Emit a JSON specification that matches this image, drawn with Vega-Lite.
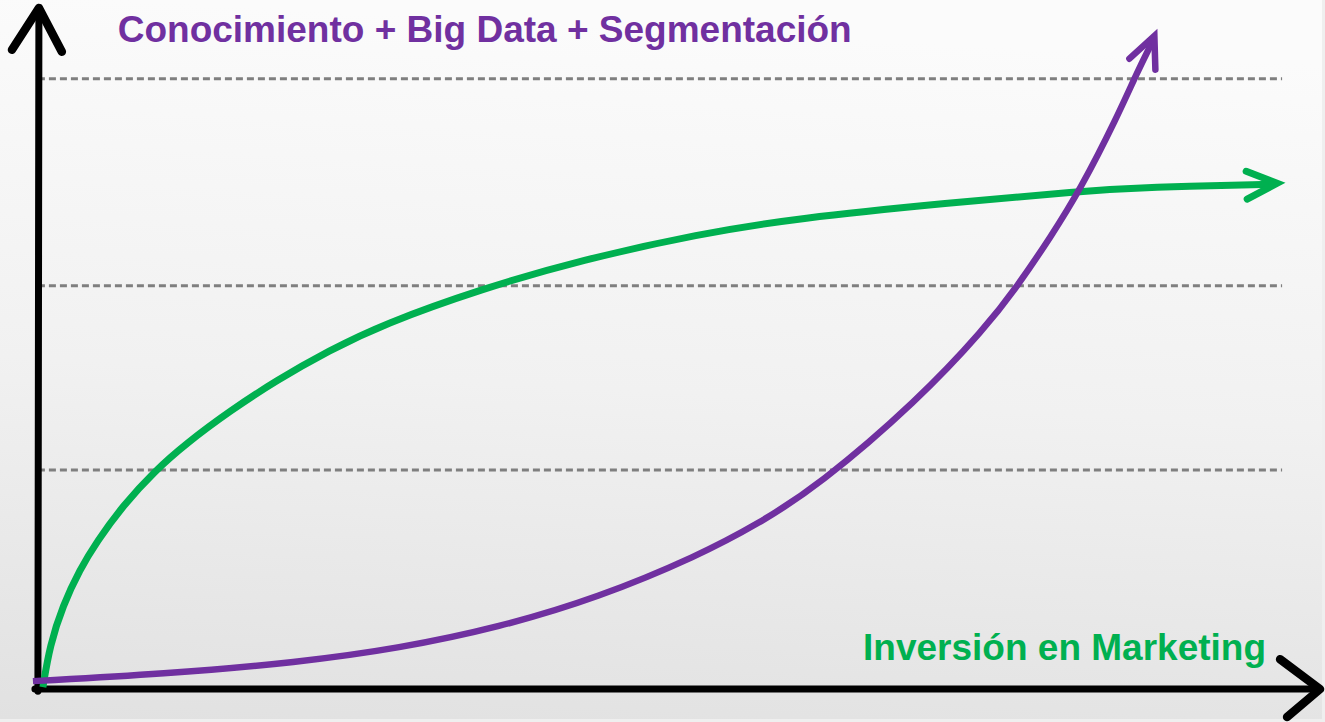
{
  "$schema": "https://vega.github.io/schema/vega-lite/v6.json",
  "width": 1325,
  "height": 722,
  "autosize": {"type": "fit", "contains": "padding"},
  "padding": 0,
  "background": "#efefef",
  "view": {
    "stroke": null,
    "fill": {
      "gradient": "linear",
      "x1": 0.1, "y1": 0, "x2": 0, "y2": 1,
      "stops": [
        {"offset": 0, "color": "#fbfbfb"},
        {"offset": 0.5, "color": "#f1f1f1"},
        {"offset": 1, "color": "#e1e1e1"}
      ]
    }
  },
  "datasets": {
    "grid": [
      {"level": 100, "start": 0, "end": 99.76},
      {"level": 66.07, "start": 0, "end": 99.76},
      {"level": 35.89, "start": 0, "end": 99.76}
    ],
    "curves": [
      {"series": "green", "x": 0.4, "y": 0.33},
      {"series": "green", "x": 0.96, "y": 7.18},
      {"series": "green", "x": 2.0, "y": 13.7},
      {"series": "green", "x": 3.36, "y": 19.58},
      {"series": "green", "x": 4.72, "y": 24.14},
      {"series": "green", "x": 6.8, "y": 30.02},
      {"series": "green", "x": 9.36, "y": 35.73},
      {"series": "green", "x": 11.92, "y": 40.29},
      {"series": "green", "x": 15.36, "y": 45.51},
      {"series": "green", "x": 19.12, "y": 50.57},
      {"series": "green", "x": 23.36, "y": 55.46},
      {"series": "green", "x": 27.6, "y": 59.71},
      {"series": "green", "x": 35.6, "y": 65.58},
      {"series": "green", "x": 43.6, "y": 70.31},
      {"series": "green", "x": 52.96, "y": 74.55},
      {"series": "green", "x": 60.96, "y": 77.16},
      {"series": "green", "x": 72.96, "y": 79.61},
      {"series": "green", "x": 83.6, "y": 81.57},
      {"series": "green", "x": 88.96, "y": 82.22},
      {"series": "green", "x": 99.04, "y": 82.71},
      {"series": "purple", "x": -0.4, "y": 1.31},
      {"series": "purple", "x": 10.0, "y": 2.45},
      {"series": "purple", "x": 20.96, "y": 4.4},
      {"series": "purple", "x": 28.96, "y": 6.69},
      {"series": "purple", "x": 36.96, "y": 10.11},
      {"series": "purple", "x": 44.96, "y": 15.01},
      {"series": "purple", "x": 52.96, "y": 21.86},
      {"series": "purple", "x": 57.76, "y": 27.08},
      {"series": "purple", "x": 62.56, "y": 33.28},
      {"series": "purple", "x": 70.56, "y": 47.31},
      {"series": "purple", "x": 75.92, "y": 59.05},
      {"series": "purple", "x": 78.56, "y": 66.07},
      {"series": "purple", "x": 81.2, "y": 74.06},
      {"series": "purple", "x": 83.6, "y": 81.89},
      {"series": "purple", "x": 86.56, "y": 93.8},
      {"series": "purple", "x": 88.16, "y": 101.14},
      {"series": "purple", "x": 89.36, "y": 106.04}
    ],
    "strokes": [
      {"kind": "axis", "id": "ay", "o": 1, "x": 0, "y": -0.33},
      {"kind": "axis", "id": "ay", "o": 2, "x": 0.08, "y": 111.58},
      {"kind": "axis", "id": "ayh", "o": 1, "x": -2.08, "y": 104.73},
      {"kind": "axis", "id": "ayh", "o": 2, "x": 0.08, "y": 111.58},
      {"kind": "axis", "id": "ayh", "o": 3, "x": 1.92, "y": 104.4},
      {"kind": "axis", "id": "ax", "o": 1, "x": -0.24, "y": 0},
      {"kind": "axis", "id": "ax", "o": 2, "x": 102.72, "y": 0},
      {"kind": "axis", "id": "axh", "o": 1, "x": 99.6, "y": 4.89},
      {"kind": "axis", "id": "axh", "o": 2, "x": 102.8, "y": 0},
      {"kind": "axis", "id": "axh", "o": 3, "x": 100.16, "y": -4.57},
      {"kind": "green", "id": "gh", "o": 1, "x": 96.88, "y": 84.83},
      {"kind": "green", "id": "gh", "o": 2, "x": 99.36, "y": 82.87},
      {"kind": "green", "id": "gh", "o": 3, "x": 96.96, "y": 80.26},
      {"kind": "purple", "id": "ph", "o": 1, "x": 87.52, "y": 103.26},
      {"kind": "purple", "id": "ph", "o": 2, "x": 89.52, "y": 107.01},
      {"kind": "purple", "id": "ph", "o": 3, "x": 89.6, "y": 101.47}
    ],
    "labels": [
      {"kind": "purple", "text": "Conocimiento + Big Data + Segmentación", "x": 6.4, "y": 106.04},
      {"kind": "green", "text": "Inversión en Marketing", "x": 66.16, "y": 4.73}
    ]
  },
  "layer": [
    {
      "data": {"name": "grid"},
      "mark": {"type": "rule", "color": "#7f7f7f", "strokeWidth": 3, "strokeDash": [7, 4]},
      "encoding": {
        "x": {"field": "start", "type": "quantitative", "scale": {"domain": [-3.04, 102.96], "nice": false, "zero": false}, "axis": null},
        "x2": {"field": "end"},
        "y": {"field": "level", "type": "quantitative", "scale": {"domain": [-4.894, 112.88], "nice": false, "zero": false}, "axis": null}
      }
    },
    {
      "data": {"name": "strokes"},
      "transform": [{"filter": "datum.kind === 'axis' && (datum.id === 'ay' || datum.id === 'ax')"}],
      "mark": {"type": "line", "color": "#000000", "strokeWidth": 7, "strokeCap": "round", "strokeJoin": "round"},
      "encoding": {
        "x": {"field": "x", "type": "quantitative", "scale": {"domain": [-3.04, 102.96], "nice": false, "zero": false}, "axis": null},
        "y": {"field": "y", "type": "quantitative", "scale": {"domain": [-4.894, 112.88], "nice": false, "zero": false}, "axis": null},
        "detail": {"field": "id"},
        "order": {"field": "o"}
      }
    },
    {
      "data": {"name": "strokes"},
      "transform": [{"filter": "datum.kind === 'axis' && (datum.id === 'ayh' || datum.id === 'axh')"}],
      "mark": {"type": "line", "color": "#000000", "strokeWidth": 8.5, "strokeCap": "round", "strokeJoin": "round"},
      "encoding": {
        "x": {"field": "x", "type": "quantitative", "scale": {"domain": [-3.04, 102.96], "nice": false, "zero": false}, "axis": null},
        "y": {"field": "y", "type": "quantitative", "scale": {"domain": [-4.894, 112.88], "nice": false, "zero": false}, "axis": null},
        "detail": {"field": "id"},
        "order": {"field": "o"}
      }
    },
    {
      "data": {"name": "curves"},
      "transform": [{"filter": "datum.series === 'green'"}],
      "mark": {"type": "line", "color": "#00b050", "strokeWidth": 7, "strokeCap": "butt", "interpolate": "basis"},
      "encoding": {
        "x": {"field": "x", "type": "quantitative", "scale": {"domain": [-3.04, 102.96], "nice": false, "zero": false}, "axis": null},
        "y": {"field": "y", "type": "quantitative", "scale": {"domain": [-4.894, 112.88], "nice": false, "zero": false}, "axis": null}
      }
    },
    {
      "data": {"name": "strokes"},
      "transform": [{"filter": "datum.kind === 'green'"}],
      "mark": {"type": "line", "color": "#00b050", "strokeWidth": 7, "strokeCap": "round", "strokeJoin": "miter"},
      "encoding": {
        "x": {"field": "x", "type": "quantitative", "scale": {"domain": [-3.04, 102.96], "nice": false, "zero": false}, "axis": null},
        "y": {"field": "y", "type": "quantitative", "scale": {"domain": [-4.894, 112.88], "nice": false, "zero": false}, "axis": null},
        "detail": {"field": "id"},
        "order": {"field": "o"}
      }
    },
    {
      "data": {"name": "curves"},
      "transform": [{"filter": "datum.series === 'purple'"}],
      "mark": {"type": "line", "color": "#7030a0", "strokeWidth": 6.5, "strokeCap": "butt", "interpolate": "basis"},
      "encoding": {
        "x": {"field": "x", "type": "quantitative", "scale": {"domain": [-3.04, 102.96], "nice": false, "zero": false}, "axis": null},
        "y": {"field": "y", "type": "quantitative", "scale": {"domain": [-4.894, 112.88], "nice": false, "zero": false}, "axis": null}
      }
    },
    {
      "data": {"name": "strokes"},
      "transform": [{"filter": "datum.kind === 'purple'"}],
      "mark": {"type": "line", "color": "#7030a0", "strokeWidth": 6.5, "strokeCap": "round", "strokeJoin": "miter"},
      "encoding": {
        "x": {"field": "x", "type": "quantitative", "scale": {"domain": [-3.04, 102.96], "nice": false, "zero": false}, "axis": null},
        "y": {"field": "y", "type": "quantitative", "scale": {"domain": [-4.894, 112.88], "nice": false, "zero": false}, "axis": null},
        "detail": {"field": "id"},
        "order": {"field": "o"}
      }
    },
    {
      "data": {"name": "labels"},
      "mark": {"type": "text", "align": "left", "baseline": "alphabetic", "font": "Liberation Sans", "fontWeight": "bold", "fontSize": 37},
      "encoding": {
        "x": {"field": "x", "type": "quantitative", "scale": {"domain": [-3.04, 102.96], "nice": false, "zero": false}, "axis": null},
        "y": {"field": "y", "type": "quantitative", "scale": {"domain": [-4.894, 112.88], "nice": false, "zero": false}, "axis": null},
        "text": {"field": "text"},
        "color": {"field": "kind", "type": "nominal", "scale": {"domain": ["green", "purple"], "range": ["#00b050", "#7030a0"]}, "legend": null}
      }
    }
  ]
}
